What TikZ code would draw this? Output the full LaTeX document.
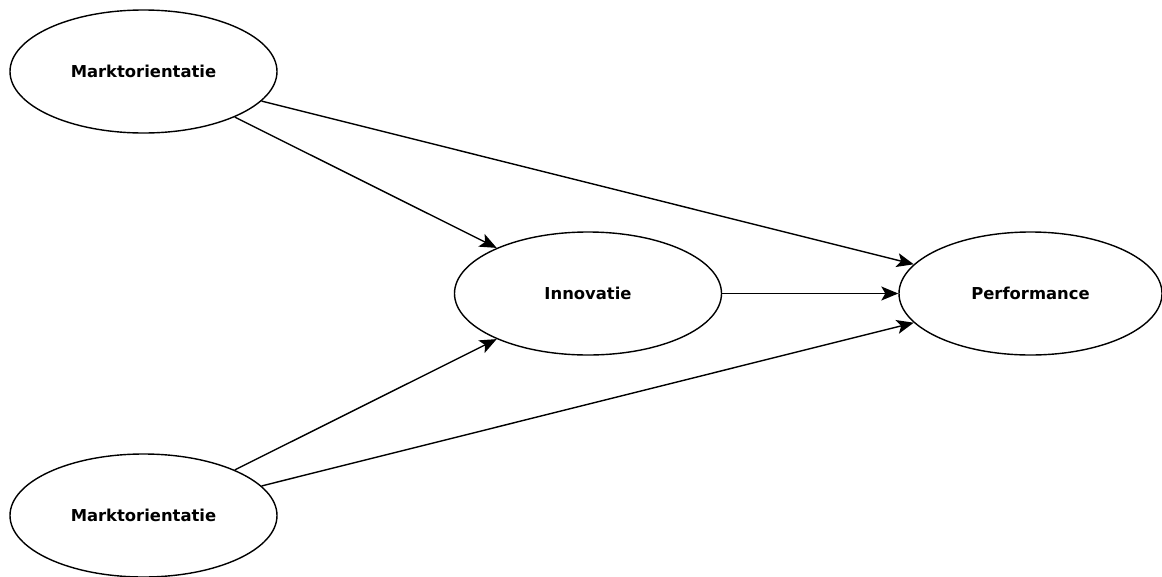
\documentclass[tikz,border=0pt]{standalone}
\usepackage{fontspec}
\setmainfont{DejaVu Sans}
\usetikzlibrary{shapes.geometric,arrows.meta}
\begin{document}
\begin{tikzpicture}[x=1pt,y=-1pt,
  construct/.style={ellipse,draw=black,line width=1.4pt,fill=white,
    minimum width=267pt,minimum height=123pt,inner sep=0pt,
    font=\fontsize{16.4}{18}\selectfont\bfseries},
  effect/.style={draw=black,line width=1.4pt,
    -{Stealth[length=17pt,width=14pt,inset=4pt]}}]
  \useasboundingbox (0,0) rectangle (1162,576);
  \node[construct] (mo1)  at (143.5,71.5)  {Marktorientatie};
  \node[construct] (mo2)  at (143.5,515.5) {Marktorientatie};
  \node[construct] (inno) at (588,293.5)   {Innovatie};
  \node[construct,minimum width=263pt] (perf) at (1030.5,293.5) {Performance};
  \draw[effect] (mo1) -- (inno);
  \draw[effect] (mo1) -- (perf);
  \draw[effect] (mo2) -- (inno);
  \draw[effect] (mo2) -- (perf);
  \draw[effect] (inno) -- (perf);
\end{tikzpicture}
\end{document}
